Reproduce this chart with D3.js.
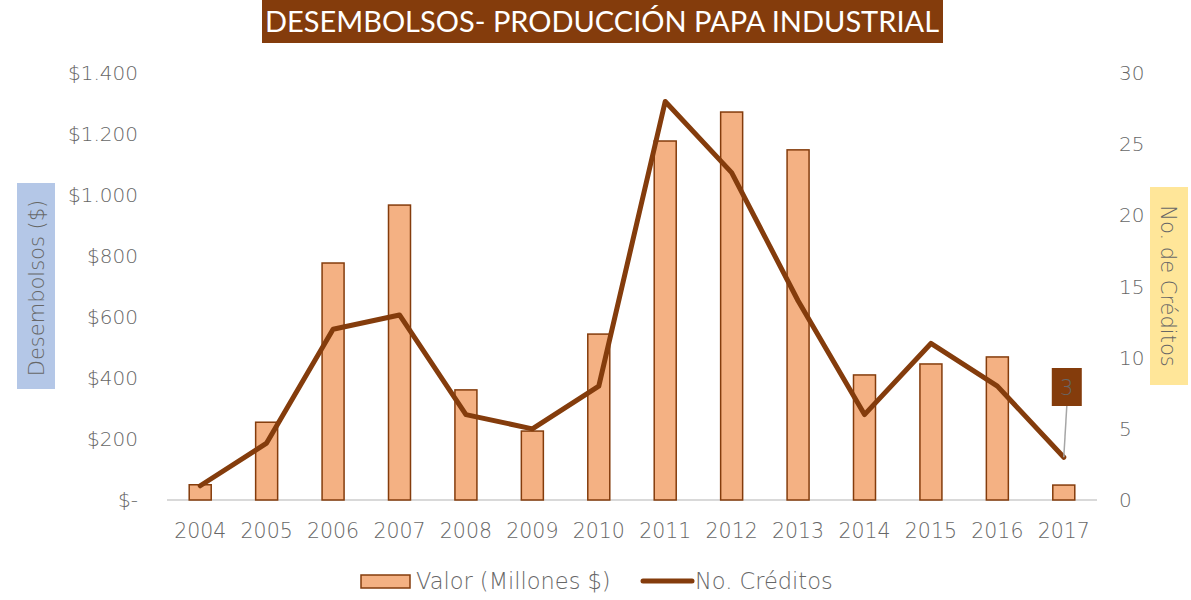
<!DOCTYPE html>
<meta charset="utf-8">
<style>
    body { margin: 0; background: #fff; }
    text { font-family: "DejaVu Sans", sans-serif; font-weight: 200; }
    text.title { font-family: "Lato", sans-serif; font-weight: 400; }
</style>
<svg width="1191" height="600"></svg>
<script src="https://d3js.org/d3.v7.min.js"></script>
<script>
    var years = ["2004", "2005", "2006", "2007", "2008", "2009", "2010", "2011", "2012", "2013", "2014", "2015", "2016", "2017"];
    var valor = [50, 255, 777, 967, 361, 226, 544, 1177, 1272, 1148, 410, 446, 469, 49];
    var creditos = [1, 4, 12, 13, 6, 5, 8, 28, 23, 14, 6, 11, 8, 3];
    var leftTicks = [0, 200, 400, 600, 800, 1000, 1200, 1400];
    var rightTicks = [0, 5, 10, 15, 20, 25, 30];

    var BROWN = "#843c0c",
        BAR = "#f4b183",
        GREY = "#676767";

    var svg = d3.select("svg"),
        x = d3.scaleBand().domain(years).range([167, 1097]),
        yL = d3.scaleLinear().domain([0, 1400]).range([500, 73]),
        yR = d3.scaleLinear().domain([0, 30]).range([500, 73]);

    // title
    svg.append("rect").attr("x", 262).attr("y", 0).attr("width", 681).attr("height", 43).attr("fill", BROWN);
    svg.append("text").attr("class", "title").attr("x", 602).attr("y", 32).attr("text-anchor", "middle")
        .attr("font-size", 29).attr("fill", "#fff").text("DESEMBOLSOS- PRODUCCIÓN PAPA INDUSTRIAL");

    // axis titles
    svg.append("rect").attr("x", 17).attr("y", 183).attr("width", 38).attr("height", 206).attr("fill", "#b4c7e7");
    svg.append("text").attr("transform", "translate(44,288) rotate(-90)").attr("text-anchor", "middle")
        .attr("font-size", 21).attr("fill", GREY).text("Desembolsos ($)");
    svg.append("rect").attr("x", 1150).attr("y", 187).attr("width", 38).attr("height", 198).attr("fill", "#ffe699");
    svg.append("text").attr("transform", "translate(1161,286) rotate(90)").attr("text-anchor", "middle")
        .attr("font-size", 21).attr("fill", GREY).text("No. de Créditos");

    // left ticks
    svg.selectAll(".tl").data(leftTicks).enter().append("text")
        .attr("x", 138).attr("y", function (d) { return yL(d) + 7; })
        .attr("text-anchor", "end").attr("font-size", 20).attr("fill", GREY)
        .text(function (d) { return d === 0 ? "$-" : "$" + d3.format(",")(d).replace(",", "."); });

    // right ticks
    svg.selectAll(".tr").data(rightTicks).enter().append("text")
        .attr("x", 1119).attr("y", function (d) { return yR(d) + 7; })
        .attr("font-size", 20).attr("fill", GREY)
        .text(function (d) { return d; });

    // x labels
    svg.selectAll(".tx").data(years).enter().append("text")
        .attr("x", function (d) { return x(d) + x.bandwidth() / 2; }).attr("y", 538)
        .attr("text-anchor", "middle").attr("font-size", 20.5).attr("fill", GREY)
        .text(function (d) { return d; });

    // baseline
    svg.append("line").attr("x1", 167).attr("x2", 1097).attr("y1", 500).attr("y2", 500)
        .attr("stroke", "#d9d9d9").attr("stroke-width", 2);

    // bars
    svg.selectAll(".bar").data(valor).enter().append("rect")
        .attr("x", function (d, i) { return x(years[i]) + x.bandwidth() / 2 - 11; })
        .attr("y", function (d) { return yL(d); })
        .attr("width", 22)
        .attr("height", function (d) { return 500 - yL(d); })
        .attr("fill", BAR).attr("stroke", BROWN).attr("stroke-width", 1.5);

    // line
    var line = d3.line()
        .x(function (d, i) { return x(years[i]) + x.bandwidth() / 2; })
        .y(function (d) { return yR(d); });
    svg.append("path").datum(creditos).attr("d", line)
        .attr("fill", "none").attr("stroke", BROWN).attr("stroke-width", 5)
        .attr("stroke-linejoin", "round").attr("stroke-linecap", "round");

    // data label for last point
    var lx = x(years[13]) + x.bandwidth() / 2,
        ly = yR(creditos[13]);
    svg.append("line").attr("x1", lx).attr("y1", ly).attr("x2", lx + 3).attr("y2", 406)
        .attr("stroke", "#a6a6a6").attr("stroke-width", 1.5);
    svg.append("rect").attr("x", lx - 12).attr("y", 368).attr("width", 30).attr("height", 38).attr("fill", BROWN);
    svg.append("text").attr("x", lx + 3).attr("y", 395).attr("text-anchor", "middle")
        .attr("font-size", 21).attr("fill", GREY).text(creditos[13]);

    // legend
    svg.append("rect").attr("x", 361).attr("y", 575).attr("width", 49).attr("height", 13)
        .attr("fill", BAR).attr("stroke", BROWN).attr("stroke-width", 1.5);
    svg.append("text").attr("x", 416).attr("y", 589).attr("font-size", 22.5).attr("fill", GREY).text("Valor (Millones $)");
    svg.append("line").attr("x1", 643).attr("x2", 692).attr("y1", 581).attr("y2", 581)
        .attr("stroke", BROWN).attr("stroke-width", 5).attr("stroke-linecap", "round");
    svg.append("text").attr("x", 695).attr("y", 589).attr("font-size", 22.5).attr("fill", GREY).text("No. Créditos");
</script>
